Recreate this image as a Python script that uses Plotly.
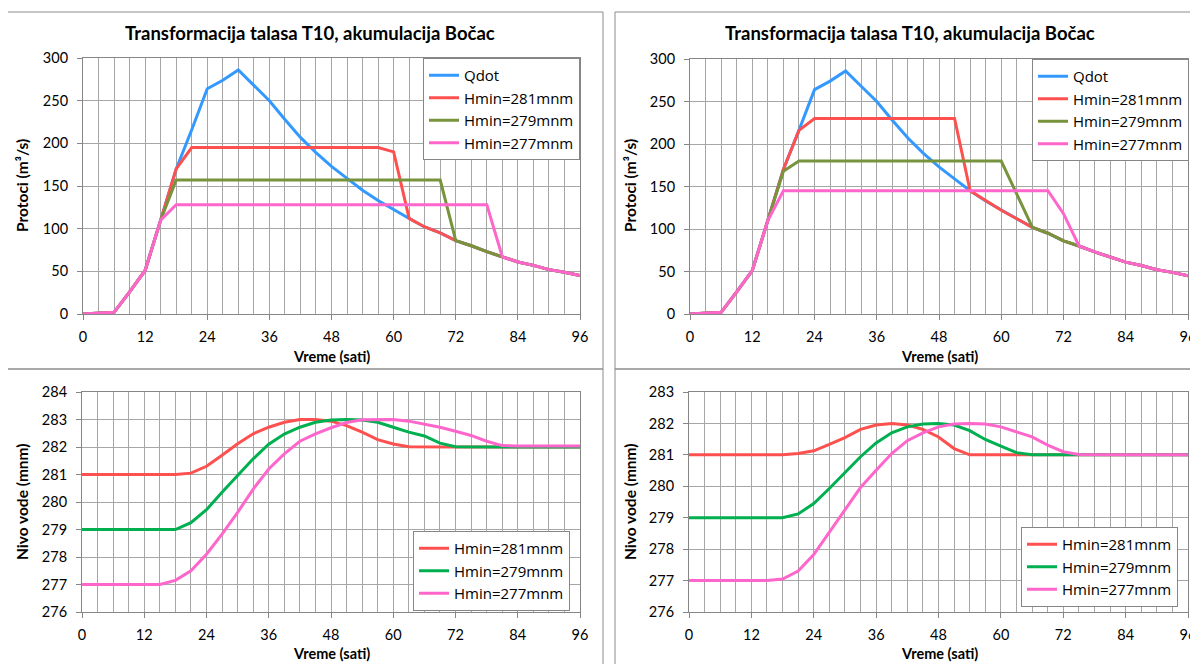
import plotly.graph_objects as go

# The page body adds an 8 px margin, so the figure is sized to fill the rest of the window
OFF = 8
W, H = 1198 - OFF, 664 - OFF

hours = [0, 3, 6, 9, 12, 15, 18, 21, 24, 27, 30, 33, 36, 39, 42, 45, 48,
         51, 54, 57, 60, 63, 66, 69, 72, 75, 78, 81, 84, 87, 90, 93, 96]

# ---------- top panels: flows (m3/s) ----------
qdot = [0, 1, 2, 26, 51, 110, 170, 216, 264, 274, 286, 268, 250, 228, 207, 189, 173,
        159, 145, 133, 122, 112, 102, 95, 86, 80, 73, 67, 61, 57, 52, 49, 45]

# left chart
q281_L = [0, 1, 2, 26, 51, 110, 170, 195, 195, 195, 195, 195, 195, 195, 195, 195, 195,
          195, 195, 195, 190, 112, 102, 95, 86, 80, 73, 67, 61, 57, 52, 49, 45]
q279_L = [0, 1, 2, 26, 51, 110, 157, 157, 157, 157, 157, 157, 157, 157, 157, 157, 157,
          157, 157, 157, 157, 157, 157, 157, 86, 80, 73, 67, 61, 57, 52, 49, 45]
q277_L = [0, 1, 2, 26, 51, 110, 128, 128, 128, 128, 128, 128, 128, 128, 128, 128, 128,
          128, 128, 128, 128, 128, 128, 128, 128, 128, 128, 67, 61, 57, 52, 49, 45]

# right chart
q281_R = [0, 1, 2, 26, 51, 110, 170, 216, 230, 230, 230, 230, 230, 230, 230, 230, 230,
          230, 145, 133, 122, 112, 102, 95, 86, 80, 73, 67, 61, 57, 52, 49, 45]
q279_R = [0, 1, 2, 26, 51, 110, 168, 180, 180, 180, 180, 180, 180, 180, 180, 180, 180,
          180, 180, 180, 180, 141, 102, 95, 86, 80, 73, 67, 61, 57, 52, 49, 45]
q277_R = [0, 1, 2, 26, 51, 110, 145, 145, 145, 145, 145, 145, 145, 145, 145, 145, 145,
          145, 145, 145, 145, 145, 145, 145, 118, 80, 73, 67, 61, 57, 52, 49, 45]

# ---------- bottom panels: water level (mnm) ----------
h281_L = [281, 281, 281, 281, 281, 281, 281, 281.05, 281.3, 281.7, 282.12, 282.48, 282.72, 282.9, 283.0, 283.0, 282.94,
          282.78, 282.54, 282.27, 282.11, 282.01, 282, 282, 282, 282, 282, 282, 282, 282, 282, 282, 282]
h279_L = [279, 279, 279, 279, 279, 279, 279, 279.25, 279.72, 280.35, 280.96, 281.57, 282.1, 282.47, 282.72, 282.9, 282.98,
          283.0, 282.98, 282.9, 282.72, 282.54, 282.4, 282.14, 282.01, 282, 282, 282, 282, 282, 282, 282, 282]
h277_L = [277, 277, 277, 277, 277, 277, 277.15, 277.5, 278.1, 278.83, 279.62, 280.47, 281.2, 281.75, 282.21, 282.48, 282.7,
          282.89, 282.99, 283.0, 283.0, 282.94, 282.84, 282.72, 282.57, 282.42, 282.21, 282.05, 282.04, 282.04, 282.04, 282.04, 282.04]

h281_R = [281, 281, 281, 281, 281, 281, 281, 281.04, 281.13, 281.33, 281.55, 281.81, 281.95, 282.0, 281.95, 281.81, 281.57,
          281.2, 281.0, 281, 281, 281, 281, 281, 281, 281, 281, 281, 281, 281, 281, 281, 281]
h279_R = [279, 279, 279, 279, 279, 279, 279, 279.12, 279.45, 279.93, 280.43, 280.94, 281.38, 281.7, 281.89, 281.98, 282.0,
          281.95, 281.77, 281.49, 281.28, 281.07, 281.0, 281, 281, 281, 281, 281, 281, 281, 281, 281, 281]
h277_R = [277, 277, 277, 277, 277, 277, 277.05, 277.3, 277.83, 278.54, 279.23, 279.96, 280.51, 281.04, 281.45, 281.7, 281.89,
          281.98, 282.0, 281.98, 281.89, 281.73, 281.57, 281.31, 281.1, 281.01, 281, 281, 281, 281, 281, 281, 281]

names_top = ["Qdot", "Hmin=281mnm", "Hmin=279mnm", "Hmin=277mnm"]
names_bot = ["Hmin=281mnm", "Hmin=279mnm", "Hmin=277mnm"]
title_text = "Transformacija talasa T10, akumulacija Bočac"
x_ticks = [0, 12, 24, 36, 48, 60, 72, 84, 96]

C_BLUE = "rgb(51,153,255)"
C_RED = "rgb(255,80,80)"
C_OLIVE = "rgb(119,147,60)"
C_PINK = "rgb(255,102,204)"
C_GREEN = "rgb(0,176,80)"

FONT = "Lato, 'Open Sans', sans-serif"
LFONT = "'Open Sans', Lato, sans-serif"
GRID = "#a6a6a6"
AXL = "#868686"


def px(x):
    return (x - OFF) / W


def py(y):
    return 1 - (y - OFF) / H


fig = go.Figure()

panels = [
    ("x", "y", "legend", [qdot, q281_L, q279_L, q277_L], names_top, [C_BLUE, C_RED, C_OLIVE, C_PINK]),
    ("x2", "y2", "legend2", [qdot, q281_R, q279_R, q277_R], names_top, [C_BLUE, C_RED, C_OLIVE, C_PINK]),
    ("x3", "y3", "legend3", [h281_L, h279_L, h277_L], names_bot, [C_RED, C_GREEN, C_PINK]),
    ("x4", "y4", "legend4", [h281_R, h279_R, h277_R], names_bot, [C_RED, C_GREEN, C_PINK]),
]

for xa, ya, lg, series, nms, cols in panels:
    for i, (s, n, c) in enumerate(zip(series, nms, cols)):
        fig.add_trace(go.Scatter(x=hours, y=s, name=n, mode="lines",
                                 line=dict(color=c, width=3),
                                 xaxis=xa, yaxis=ya, legend=lg,
                                 legendgroup=f"{lg}_{i}"))

# plot-area pixel boxes in the window (left, right, top, bottom)
boxes = {
    "1": (83, 580, 58, 314),
    "2": (690, 1188, 59, 314),
    "3": (82, 580, 392, 612),
    "4": (689, 1188, 392, 612),
}
yranges = {"1": [0, 300], "2": [0, 300], "3": [276, 284], "4": [276, 283]}
ydticks = {"1": 50, "2": 50, "3": 1, "4": 1}

layout = dict(
    width=W, height=H,
    margin=dict(l=0, r=0, t=0, b=0, pad=0),
    paper_bgcolor="white", plot_bgcolor="white",
    font=dict(family=FONT, color="black", size=14.5),
)

for k, (l, r, t, b) in boxes.items():
    sfx = "" if k == "1" else k
    layout["xaxis" + sfx] = dict(
        domain=[px(l), px(r)], anchor="y" + sfx, range=[0, 96],
        tickmode="array", tickvals=x_ticks, ticks="outside", ticklen=5,
        tickcolor=AXL, showline=True, linecolor=AXL, mirror=True,
        showgrid=True, gridcolor=GRID, gridwidth=1, zeroline=False,
        minor=dict(dtick=3, tick0=0, showgrid=True, gridcolor=GRID, gridwidth=1, ticks=""),
        tickfont=dict(size=14.5, family=FONT), ticklabelstandoff=5, automargin=False,
        fixedrange=True,
    )
    layout["yaxis" + sfx] = dict(
        domain=[py(b), py(t)], anchor="x" + sfx, range=yranges[k],
        dtick=ydticks[k], ticks="outside", ticklen=5, tickcolor=AXL,
        showline=True, linecolor=AXL, mirror=True,
        showgrid=True, gridcolor=GRID, gridwidth=1, zeroline=False,
        tickfont=dict(size=14.5, family=FONT), ticklabelstandoff=6, automargin=False,
        fixedrange=True,
    )

legend_common = dict(bgcolor="white", bordercolor=AXL, borderwidth=1,
                     font=dict(size=15, family=LFONT), xanchor="right", yanchor="top",
                     traceorder="normal", itemwidth=30)
layout["legend"] = dict(legend_common, x=px(580), y=py(58), tracegroupgap=0)
layout["legend2"] = dict(legend_common, x=px(1189), y=py(59), tracegroupgap=2)
layout["legend3"] = dict(legend_common, x=px(570), y=py(531), tracegroupgap=0)
layout["legend4"] = dict(legend_common, x=px(1178), y=py(527), tracegroupgap=1)

fig.update_layout(**layout)

# panel borders
border = dict(color="#8c8c8c", width=1)
for (x0, x1, y0, y1) in [(7, 603, 12, 369), (615, 1220, 12, 369),
                         (7, 603, 369, 690), (615, 1220, 369, 690)]:
    fig.add_shape(type="rect", xref="paper", yref="paper",
                  x0=px(x0), x1=px(x1), y0=py(y1), y1=py(y0), line=border,
                  fillcolor="rgba(0,0,0,0)", layer="below")

ann = []
for cx in (310, 910):
    ann.append(dict(text=f"<b>{title_text}</b>", x=px(cx), y=py(33), xref="paper", yref="paper",
                    showarrow=False, font=dict(size=18.5, family=FONT), xanchor="center", yanchor="middle"))
for (cx, cy) in [(331, 356), (939, 356), (331, 653), (939, 653)]:
    ann.append(dict(text="<b>Vreme (sati)</b>", x=px(cx), y=py(cy), xref="paper", yref="paper",
                    showarrow=False, font=dict(size=14.5, family=FONT), xanchor="center", yanchor="middle"))
for (cx, cy) in [(22, 186), (630, 186)]:
    ann.append(dict(text="<b>Protoci (m³/s)</b>", x=px(cx), y=py(cy), xref="paper", yref="paper",
                    textangle=-90, showarrow=False, font=dict(size=15.5, family=FONT),
                    xanchor="center", yanchor="middle"))
for (cx, cy) in [(22, 502), (630, 502)]:
    ann.append(dict(text="<b>Nivo vode (mnm)</b>", x=px(cx), y=py(cy), xref="paper", yref="paper",
                    textangle=-90, showarrow=False, font=dict(size=15.5, family=FONT),
                    xanchor="center", yanchor="middle"))
fig.update_layout(annotations=ann)

fig.write_html("out.html")
